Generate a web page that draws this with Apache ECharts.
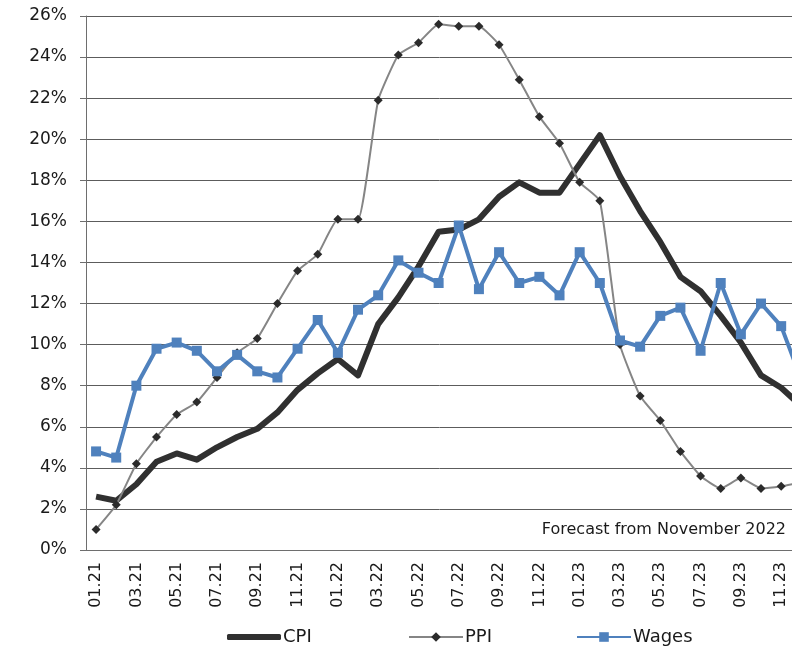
<!DOCTYPE html>
<html>
<head>
<meta charset="utf-8">
<script src="https://cdn.jsdelivr.net/npm/echarts@6/dist/echarts.min.js"></script>
<style>
  html, body { margin: 0; padding: 0; background: #ffffff; }
  #chart { width: 792px; height: 649px; }
</style>
</head>
<body>
<div id="chart"></div>
<script>
// Monthly categories, January 2021 to December 2023
const months = [
  '01.21','02.21','03.21','04.21','05.21','06.21','07.21','08.21','09.21','10.21','11.21','12.21',
  '01.22','02.22','03.22','04.22','05.22','06.22','07.22','08.22','09.22','10.22','11.22','12.22',
  '01.23','02.23','03.23','04.23','05.23','06.23','07.23','08.23','09.23','10.23','11.23','12.23'
];

// Year-on-year growth, %
const cpi = [
  2.6, 2.4, 3.2, 4.3, 4.7, 4.4, 5.0, 5.5, 5.9, 6.7, 7.8, 8.6,
  9.3, 8.5, 11.0, 12.3, 13.8, 15.5, 15.6, 16.1, 17.2, 17.9, 17.4, 17.4,
  18.8, 20.2, 18.2, 16.5, 15.0, 13.3, 12.6, 11.4, 10.1, 8.5, 7.9, 7.0
];
const ppi = [
  1.0, 2.2, 4.2, 5.5, 6.6, 7.2, 8.4, 9.6, 10.3, 12.0, 13.6, 14.4,
  16.1, 16.1, 21.9, 24.1, 24.7, 25.6, 25.5, 25.5, 24.6, 22.9, 21.1, 19.8,
  17.9, 17.0, 10.0, 7.5, 6.3, 4.8, 3.6, 3.0, 3.5, 3.0, 3.1, 3.3
];
const wages = [
  4.8, 4.5, 8.0, 9.8, 10.1, 9.7, 8.7, 9.5, 8.7, 8.4, 9.8, 11.2,
  9.6, 11.7, 12.4, 14.1, 13.5, 13.0, 15.8, 12.7, 14.5, 13.0, 13.3, 12.4,
  14.5, 13.0, 10.2, 9.9, 11.4, 11.8, 9.7, 13.0, 10.5, 12.0, 10.9, 8.3
];

const noteText = 'Forecast from November 2022';

const FONT = '"DejaVu Sans", Verdana, sans-serif';
const TEXT = '#1a1a1a';
const AXIS = '#6e6e6e';

const chart = echarts.init(document.getElementById('chart'), null, { renderer: 'canvas' });

// One legend block per series so each entry sits at its own spot
function legendAt(item, left, itemHeight) {
  return {
    data: [item],
    left: left,
    top: 628,
    padding: 0,
    itemWidth: 54,
    itemHeight: itemHeight,
    itemGap: 0,
    selectedMode: false,
    textStyle: { fontFamily: FONT, fontSize: 18, color: TEXT, padding: [0, 0, 0, -3] }
  };
}

chart.setOption({
  animation: false,
  backgroundColor: '#ffffff',
  grid: {
    left: 86, top: 16, width: 725.4, height: 534,
    containLabel: false,
    outerBoundsMode: 'none'
  },
  xAxis: {
    type: 'category',
    data: months,
    boundaryGap: true,
    axisLine: { show: true, lineStyle: { color: AXIS, width: 1 } },
    axisTick: { show: false },
    axisLabel: {
      interval: 1,
      rotate: 90,
      margin: 12,
      fontFamily: FONT,
      fontSize: 16,
      color: TEXT
    },
    splitLine: { show: false }
  },
  yAxis: {
    type: 'value',
    min: 0,
    max: 26,
    interval: 2,
    axisLine: { show: true, lineStyle: { color: AXIS, width: 1 } },
    axisTick: { show: true, length: 6, lineStyle: { color: AXIS } },
    axisLabel: {
      margin: 19,
      formatter: '{value}%',
      fontFamily: FONT,
      fontSize: 17,
      color: TEXT
    },
    splitLine: { show: true, lineStyle: { color: '#5c5c5c', width: 1 } }
  },
  legend: [
    legendAt({ name: 'CPI', icon: 'roundRect' }, 227, 6),
    legendAt({ name: 'PPI' }, 408, 12),
    legendAt({ name: 'Wages' }, 576, 12)
  ],
  graphic: [{
    type: 'text',
    right: 6,
    top: 522,
    style: {
      text: noteText,
      font: '16px ' + FONT,
      fill: TEXT
    }
  }],
  series: [
    {
      name: 'CPI',
      type: 'line',
      data: cpi,
      showSymbol: false,
      symbol: 'none',
      lineStyle: { color: '#303030', width: 6, join: 'round' },
      itemStyle: { color: '#303030' }
    },
    {
      name: 'PPI',
      type: 'line',
      data: ppi,
      smooth: 0.14,
      symbol: 'diamond',
      symbolSize: 9,
      lineStyle: { color: '#858585', width: 2 },
      itemStyle: { color: '#2b2b2b' }
    },
    {
      name: 'Wages',
      type: 'line',
      data: wages,
      symbol: 'rect',
      symbolSize: 10,
      lineStyle: { color: '#4f81bd', width: 4, join: 'round' },
      itemStyle: { color: '#4f81bd' }
    }
  ]
});
</script>
</body>
</html>
